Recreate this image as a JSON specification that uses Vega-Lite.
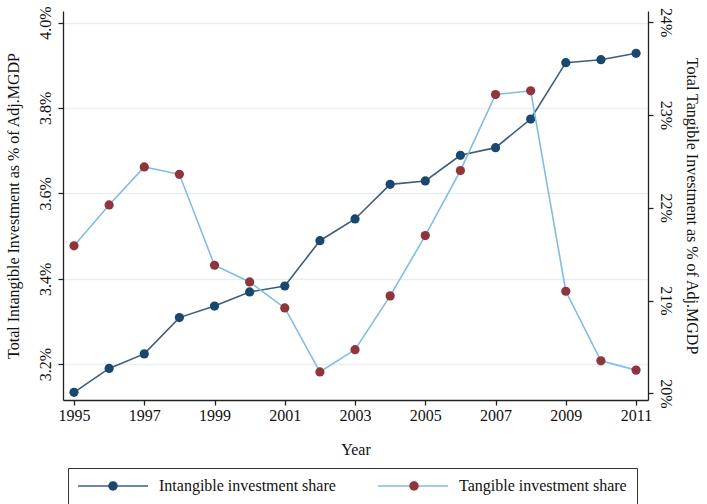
{
  "$schema": "https://vega.github.io/schema/vega-lite/v6.json",
  "autosize": "none",
  "width": 585,
  "height": 389,
  "padding": {"left": 63, "top": 11, "right": 59, "bottom": 104},
  "background": "white",
  "config": {
    "font": "Liberation Serif",
    "view": {"stroke": null},
    "axis": {
      "labelFont": "Liberation Serif",
      "labelFontSize": 16,
      "labelColor": "#111",
      "titleFont": "Liberation Serif",
      "titleFontSize": 16,
      "titleFontWeight": "normal",
      "titleColor": "#111",
      "domainColor": "#222",
      "domainWidth": 1.3,
      "tickColor": "#222",
      "tickWidth": 1.3,
      "tickSize": 5,
      "grid": false
    },
    "legend": {
      "labelFont": "Liberation Serif",
      "labelFontSize": 16,
      "labelColor": "#111",
      "labelLimit": 300
    }
  },
  "data": {
    "values": [
      {"year": 1995, "intangible": 3.134, "tangible": 21.59},
      {"year": 1996, "intangible": 3.190, "tangible": 22.03},
      {"year": 1997, "intangible": 3.224, "tangible": 22.44},
      {"year": 1998, "intangible": 3.309, "tangible": 22.36},
      {"year": 1999, "intangible": 3.336, "tangible": 21.38},
      {"year": 2000, "intangible": 3.369, "tangible": 21.20},
      {"year": 2001, "intangible": 3.383, "tangible": 20.92},
      {"year": 2002, "intangible": 3.489, "tangible": 20.23},
      {"year": 2003, "intangible": 3.540, "tangible": 20.47},
      {"year": 2004, "intangible": 3.621, "tangible": 21.05},
      {"year": 2005, "intangible": 3.629, "tangible": 21.70},
      {"year": 2006, "intangible": 3.689, "tangible": 22.40},
      {"year": 2007, "intangible": 3.707, "tangible": 23.22},
      {"year": 2008, "intangible": 3.774, "tangible": 23.26},
      {"year": 2009, "intangible": 3.906, "tangible": 21.10},
      {"year": 2010, "intangible": 3.913, "tangible": 20.35},
      {"year": 2011, "intangible": 3.928, "tangible": 20.25}
    ]
  },
  "encoding": {
    "x": {
      "field": "year",
      "type": "quantitative",
      "scale": {"domain": [1994.687, 2011.34], "nice": false, "zero": false},
      "axis": {
        "title": "Year",
        "values": [1995, 1997, 1999, 2001, 2003, 2005, 2007, 2009, 2011],
        "format": "d",
        "labelPadding": 2,
        "titlePadding": 18,
        "labelFlush": false
      }
    }
  },
  "layer": [
    {
      "encoding": {
        "y": {
          "field": "intangible",
          "type": "quantitative",
          "scale": {"domain": [3.116, 4.027], "nice": false, "zero": false},
          "axis": {
            "orient": "left",
            "title": "Total Intangible Investment as % of Adj.MGDP",
            "values": [3.2, 3.4, 3.6, 3.8, 4.0],
            "labelExpr": "format(datum.value, '.1f') + '%'",
            "labelAngle": -90,
            "labelAlign": "center",
            "labelBaseline": "bottom",
            "labelPadding": 5,
            "titlePadding": 16,
            "grid": true,
            "gridColor": "#e8eef2",
            "gridWidth": 1.6
          }
        }
      },
      "layer": [
        {
          "mark": {"type": "line", "strokeWidth": 1.6},
          "encoding": {
            "stroke": {
              "datum": "Intangible investment share",
              "type": "nominal",
              "scale": {
                "domain": ["Intangible investment share", "Tangible investment share"],
                "range": ["#3d5d7c", "#7fbde6"]
              },
              "legend": {
                "orient": "none",
                "legendX": 5,
                "legendY": 457,
                "direction": "horizontal",
                "columns": 2,
                "title": null,
                "symbolType": "M-5,0H5",
                "symbolSize": 196,
                "symbolStrokeWidth": 1.6,
                "symbolOffset": 27,
                "labelOffset": 38,
                "columnPadding": 38,
                "padding": 10,
                "strokeColor": "#333",
                "fillColor": "white"
              }
            }
          }
        },
        {
          "mark": {"type": "point", "filled": true, "size": 85, "opacity": 1},
          "encoding": {
            "fill": {
              "datum": "Intangible",
              "type": "nominal",
              "scale": {
                "domain": ["Intangible", "Tangible"],
                "range": ["#1a476f", "#90353b"]
              },
              "legend": {
                "orient": "none",
                "legendX": 5,
                "legendY": 457,
                "direction": "horizontal",
                "columns": 2,
                "title": null,
                "labelExpr": "''",
                "symbolType": "M-0.67,0A0.67,0.67 0 1,0 0.67,0A0.67,0.67 0 1,0 -0.67,0Z",
                "symbolSize": 196,
                "symbolStrokeWidth": 0,
                "symbolOpacity": 1,
                "symbolOffset": 27,
                "labelOffset": 0,
                "columnPadding": 258,
                "padding": 10
              }
            }
          }
        }
      ]
    },
    {
      "encoding": {
        "y": {
          "field": "tangible",
          "type": "quantitative",
          "scale": {"domain": [19.928, 24.12], "nice": false, "zero": false},
          "axis": {
            "orient": "right",
            "title": "Total Tangible Investment as % of Adj.MGDP",
            "values": [20, 21, 22, 23, 24],
            "labelExpr": "format(datum.value, 'd') + '%'",
            "labelAngle": 90,
            "labelAlign": "center",
            "labelBaseline": "bottom",
            "labelPadding": 4,
            "titlePadding": 10,
            "grid": false
          }
        }
      },
      "layer": [
        {
          "mark": {"type": "line", "strokeWidth": 1.6},
          "encoding": {"stroke": {"datum": "Tangible investment share", "type": "nominal"}}
        },
        {
          "mark": {"type": "point", "filled": true, "size": 85, "opacity": 1},
          "encoding": {"fill": {"datum": "Tangible", "type": "nominal"}}
        }
      ]
    }
  ],
  "resolve": {"scale": {"y": "independent"}}
}
